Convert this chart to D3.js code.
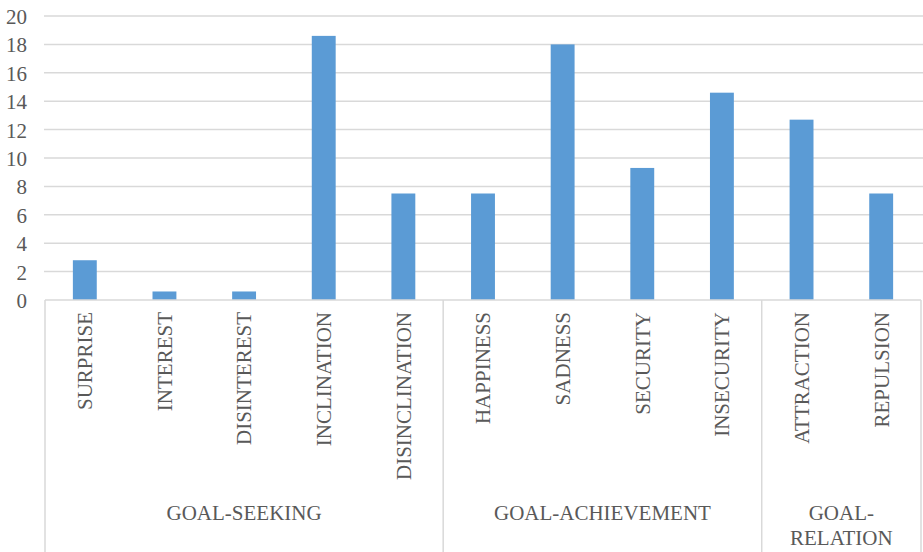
<!DOCTYPE html>
<html><head><meta charset="utf-8"><script src="https://cdn.jsdelivr.net/npm/d3@7"></script></head>
<body style="margin:0;background:#fff">
<svg id="chart" width="923" height="552" style="display:block"></svg>
<script>
const categories = ["SURPRISE","INTEREST","DISINTEREST","INCLINATION","DISINCLINATION",
  "HAPPINESS","SADNESS","SECURITY","INSECURITY","ATTRACTION","REPULSION"];
const values = [2.8, 0.6, 0.6, 18.6, 7.5, 7.5, 18.0, 9.3, 14.6, 12.7, 7.5];
const groups = [["GOAL-SEEKING"], ["GOAL-ACHIEVEMENT"], ["GOAL-", "RELATION"]];
const groupSizes = [5, 4, 2];
const yTicks = [0, 2, 4, 6, 8, 10, 12, 14, 16, 18, 20];

(function () {
const svg = d3.select("#chart");
const W = 923, H = 552;
const mLeft = 45, mRight = 921, mTop = 16, mBottom = 300;
const FONT = '"Times New Roman", "Liberation Serif", Tinos, serif';
const textColor = "#595959";
const lineColor = "#d9d9d9";

const x = d3.scaleBand().domain(categories).range([mLeft, mRight]).paddingInner(0.7).paddingOuter(0.35);
const y = d3.scaleLinear().domain([0, 20]).range([mBottom, mTop]);

// gridlines
svg.append("g").selectAll("line").data(yTicks.filter(t => t > 0)).join("line")
  .attr("x1", mLeft - 1).attr("x2", W)
  .attr("y1", d => y(d)).attr("y2", d => y(d))
  .attr("stroke", lineColor).attr("stroke-width", 1.5);

// y axis labels
const yAxis = d3.axisLeft(y).tickValues(yTicks).tickSize(0).tickPadding(0);
const ya = svg.append("g").attr("transform", "translate(27,0)").call(yAxis);
ya.attr("font-family", null).attr("font-size", null);
ya.select(".domain").remove();
ya.selectAll("text").style("font-family", FONT).attr("font-size", 21).attr("fill", textColor)
  .attr("dy", "0.36em");

// bars
svg.append("g").selectAll("rect").data(categories).join("rect")
  .attr("x", d => x(d))
  .attr("width", x.bandwidth())
  .attr("y", (d, i) => y(values[i]))
  .attr("height", (d, i) => y(0) - y(values[i]))
  .attr("fill", "#5b9bd5");

// x axis line
svg.append("line").attr("x1", mLeft).attr("x2", mRight).attr("y1", mBottom).attr("y2", mBottom)
  .attr("stroke", lineColor).attr("stroke-width", 1.5);

// category labels (rotated)
const xAxis = d3.axisBottom(x).tickSize(0).tickPadding(0);
const xa = svg.append("g").attr("transform", `translate(0,${mBottom})`).call(xAxis);
xa.attr("font-family", null).attr("font-size", null);
xa.select(".domain").remove();
xa.selectAll(".tick text")
  .style("font-family", FONT).attr("font-size", 21).attr("fill", textColor)
  .attr("transform", "rotate(-90)")
  .attr("text-anchor", "end")
  .attr("x", -12).attr("y", 0).attr("dy", "0.35em");

// group separators and labels
let idx = 0;
const bounds = [0];
groupSizes.forEach(s => { idx += s; bounds.push(idx); });
const boundaryX = b => mLeft + b * (mRight - mLeft) / categories.length;

svg.append("g").selectAll("line").data(bounds).join("line")
  .attr("x1", d => boundaryX(d)).attr("x2", d => boundaryX(d))
  .attr("y1", mBottom).attr("y2", H)
  .attr("stroke", lineColor).attr("stroke-width", 1.5);

groups.forEach((lines, gi) => {
  const cx = (boundaryX(bounds[gi]) + boundaryX(bounds[gi + 1])) / 2;
  const t = svg.append("text")
    .style("font-family", FONT).attr("font-size", 21).attr("fill", textColor)
    .attr("text-anchor", "middle");
  lines.forEach((ln, li) => {
    t.append("tspan").attr("x", cx).attr("y", 520 + li * 25).text(ln);
  });
});
})();
</script>
</body>
</html>
